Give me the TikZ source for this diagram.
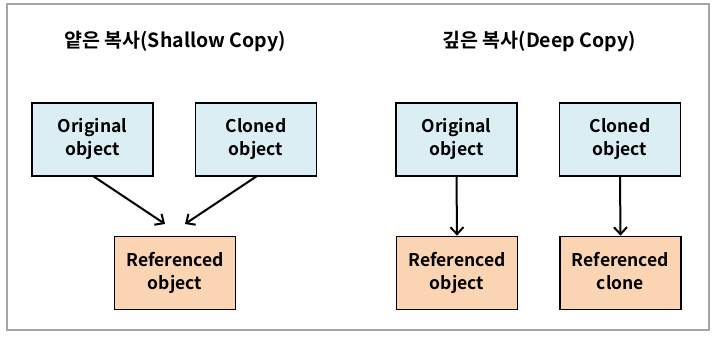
\documentclass[tikz,border=0pt]{standalone}
\usepackage{fontspec}
\setmainfont{Noto Sans CJK KR}[BoldFont={* Bold}]
\usetikzlibrary{arrows.meta}
\definecolor{boxblue}{HTML}{DAEEF3}
\definecolor{boxorange}{HTML}{FBD4B4}
\definecolor{framegray}{HTML}{A6A6A6}
\tikzset{
  objbox/.style={draw=black, line width=1.7pt, minimum width=121pt, minimum height=73pt, align=center, font=\fontsize{17.5}{23}\selectfont\bfseries, inner sep=0pt},
  origbox/.style={objbox, fill=boxblue},
  refbox/.style={objbox, fill=boxorange},
  link/.style={line width=2pt, -{Straight Barb[length=7pt,width=13pt,line width=2pt]}},
  title/.style={font=\fontsize{19.5}{22}\selectfont\bfseries}
}
\begin{document}
\begin{tikzpicture}[x=1pt,y=-1pt]
\useasboundingbox[fill=white] (0,0) rectangle (720,339);
\draw[framegray, line width=1.6pt] (7,4) rectangle (709,330);
\node[title] (t1) at (175,42) {얕은 복사(Shallow Copy)};
\node[title] (t2) at (539,42) {깊은 복사(Deep Copy)};
% shallow
\node[origbox] (so) at (92.5,139.5) {Original\strut\\object\strut};
\node[origbox] (sc) at (256,139.5) {Cloned\strut\\object\strut};
\node[refbox] (sr) at (175,273) {Referenced\strut\\object\strut};
\draw[link] (93,176) -- (165,224);
\draw[link] (257,176) -- (185,224);
% deep
\node[origbox] (do) at (456.5,139.5) {Original\strut\\object\strut};
\node[origbox] (dc) at (620,139.5) {Cloned\strut\\object\strut};
\node[refbox] (dr1) at (457,273) {Referenced\strut\\object\strut};
\node[refbox] (dr2) at (620.5,273) {Referenced\strut\\clone\strut};
\draw[link] (do.south) -- (dr1.north);
\draw[link] (dc.south) -- (dr2.north);
\end{tikzpicture}
\end{document}
